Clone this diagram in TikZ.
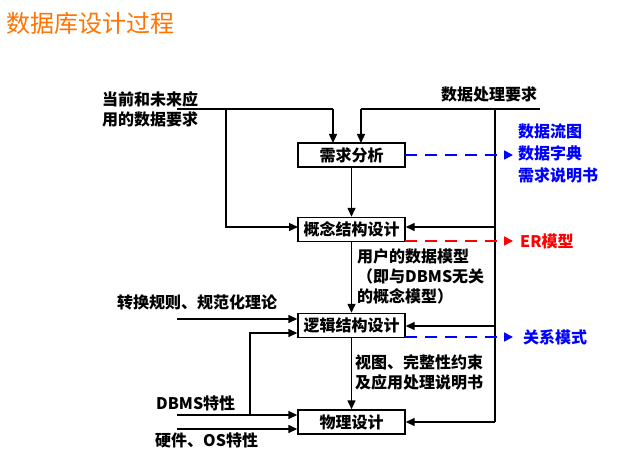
\documentclass[tikz,border=0pt]{standalone}
\usepackage{fontspec}
\setmainfont{Noto Sans CJK SC}
\usetikzlibrary{arrows.meta}
\begin{document}
\begin{tikzpicture}[x=1pt,y=-1pt,
  box/.style={draw,line width=1.4pt,minimum width=107pt,minimum height=24pt,inner sep=0pt,font=\fontsize{16}{17}\selectfont\bfseries},
  lab/.style={font=\fontsize{16}{20}\selectfont\bfseries,inner sep=0pt,align=left},
  ln/.style={line width=1.4pt,-{Triangle[length=9pt,width=8pt]}},
  pl/.style={line width=1.4pt},
  dsh/.style={line width=1.7pt,dash pattern=on 12pt off 8pt,-{Triangle[length=9pt,width=9pt]}}]
\useasboundingbox (0,0) rectangle (636,465);
\node[lab,anchor=west,text=orange!90!red,font=\fontsize{24}{26}\selectfont] (title) at (6,23) {数据库设计过程};
\node[box] (a) at (351.5,155) {需求分析};
\node[box] (b) at (351.5,229.5) {概念结构设计};
\node[box] (c) at (351.5,325.5) {逻辑结构设计};
\node[box] (d) at (351.5,422) {物理设计};
\node[lab,anchor=west] (l1) at (102,109) {当前和未来应\\用的数据要求};
\node[lab,anchor=west] (l2) at (441,94) {数据处理要求};
\node[lab,anchor=west,text=blue,font=\fontsize{16}{22}\selectfont\bfseries] (r1) at (518,153) {数据流图\\数据字典\\需求说明书};
\node[lab,anchor=west,text=red] (r2) at (520,241) {ER模型};
\node[lab,anchor=west,text=blue] (r3) at (523,337) {关系模式};
\node[lab,anchor=west] (m1) at (357,276) {用户的数据模型\\（即与DBMS无关\\的概念模型）};
\node[lab,anchor=west] (m2) at (355,372) {视图、完整性约束\\及应用处理说明书};
\node[lab,anchor=west] (t1) at (117,302) {转换规则、规范化理论};
\node[lab,anchor=west] (t2) at (156,403) {DBMS特性};
\node[lab,anchor=west] (t3) at (155,440) {硬件、OS特性};
\coordinate (p1) at (177,109);
\coordinate (p2) at (540,109);
\coordinate (p3) at (177,319);
\coordinate (p4) at (177,415);
\coordinate (p5) at (177,429);
\draw[pl] (p1) -- (333,109);
\draw[ln] (333,109) -- (333,143);
\draw[ln] (226,109) -- (226,227) -- (298,227);
\draw[pl] (p2) -- (361,109);
\draw[ln] (361,109) -- (361,143);
\draw[pl] (495,109) -- (495,422);
\draw[ln] (495,227) -- (b.east|-0,227);
\draw[ln] (495,326) -- (c.east|-0,326);
\draw[ln] (495,422) -- (d.east);
\draw[ln] (a) -- (b);
\draw[ln] (b) -- (c);
\draw[ln] (c) -- (d);
\draw[ln] (p3) -- (c.west|-p3);
\draw[ln] (250,415) -- (250,333) -- (c.west|-0,333);
\draw[ln] (p4) -- (d.west|-p4);
\draw[ln] (p5) -- (d.west|-p5);
\draw[dsh,blue] (405,155) -- (513,155);
\draw[dsh,red] (405,241) -- (513,241);
\draw[dsh,blue] (405,337) -- (513,337);
\end{tikzpicture}
\end{document}
